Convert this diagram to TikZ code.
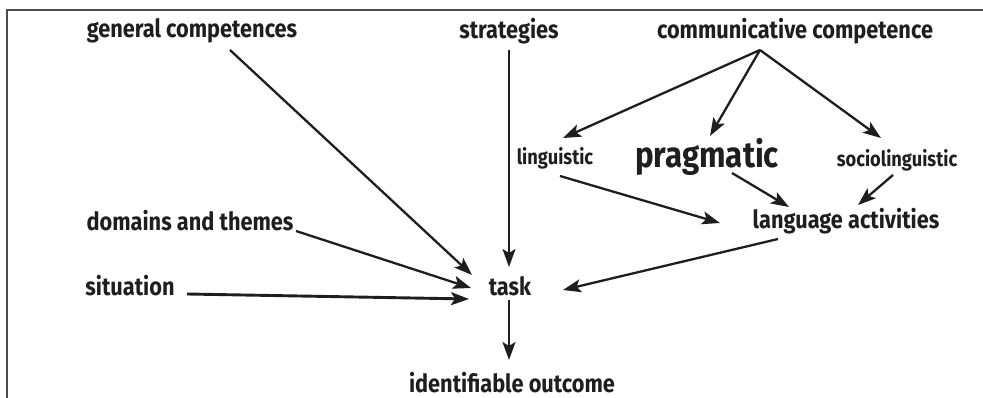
\documentclass[tikz,border=0pt]{standalone}
\usepackage{fontspec}
\setmainfont{Fira Sans}[FakeStretch=0.87]
\usetikzlibrary{arrows.meta}
\definecolor{ink}{HTML}{1E1E1E}
\tikzset{
  lbl/.style={inner sep=0pt, text=ink, font=\fontsize{25}{28}\selectfont\bfseries},
  small/.style={inner sep=0pt, text=ink, font=\fontsize{21}{24}\selectfont\bfseries},
  big/.style={inner sep=0pt, text=ink, font=\fontsize{36}{40}\selectfont\bfseries},
  arr/.style={draw=ink, line width=2.3pt, -{Stealth[length=18pt,width=13pt,inset=4pt]}},
}
\begin{document}
\begin{tikzpicture}[x=1pt,y=-1pt]
\useasboundingbox (0,0) rectangle (983,398);
\draw[line width=1.5pt, draw=black!70] (7,398) -- (7,10) -- (983,10);
\node[lbl]   (gc) at (192,31)  {general competences};
\node[lbl]   (st) at (509,31)  {strategies};
\node[lbl]   (cc) at (795,31)  {communicative competence};
\node[small] (li) at (555,158) {linguistic};
\node[big]   (pr) at (707,157) {pragmatic};
\node[small] (so) at (897,160) {sociolinguistic};
\node[lbl]   (dt) at (190,221) {domains and themes};
\node[lbl]   (la) at (846,221) {language activities};
\node[lbl]   (si) at (130,286) {situation};
\node[lbl]   (ta) at (510,286) {task};
\node[lbl]   (io) at (512,383) {identifiable outcome};
\draw[arr] ([shift={(38,19)}]gc.center) -- ([shift={(-38,-11)}]ta.center);
\draw[arr] ([shift={(0,19)}]st.center) -- ([shift={(-1,-19)}]ta.center);
\draw[arr] ([shift={(-35,19)}]cc.center) -- ([shift={(8,-20)}]li.center);
\draw[arr] ([shift={(-35,19)}]cc.center) -- ([shift={(3,-21)}]pr.center);
\draw[arr] ([shift={(-35,19)}]cc.center) -- ([shift={(-16,-22)}]so.center);
\draw[arr] ([shift={(5,18)}]li.center) -- ([shift={(-126,2)}]la.center);
\draw[arr] ([shift={(25,16)}]pr.center) -- ([shift={(-57,-14)}]la.center);
\draw[arr] ([shift={(-4,15)}]so.center) -- ([shift={(12,-16)}]la.center);
\draw[arr] ([shift={(106,10)}]dt.center) -- ([shift={(-39,2)}]ta.center);
\draw[arr, line width=2.9pt] ([shift={(57,8)}]si.center) -- ([shift={(-41,13)}]ta.center);
\draw[arr] ([shift={(-68,18)}]la.center) -- ([shift={(53,4)}]ta.center);
\draw[arr] ([shift={(-1,14)}]ta.center) -- ([shift={(-3,-23)}]io.center);
\end{tikzpicture}
\end{document}
